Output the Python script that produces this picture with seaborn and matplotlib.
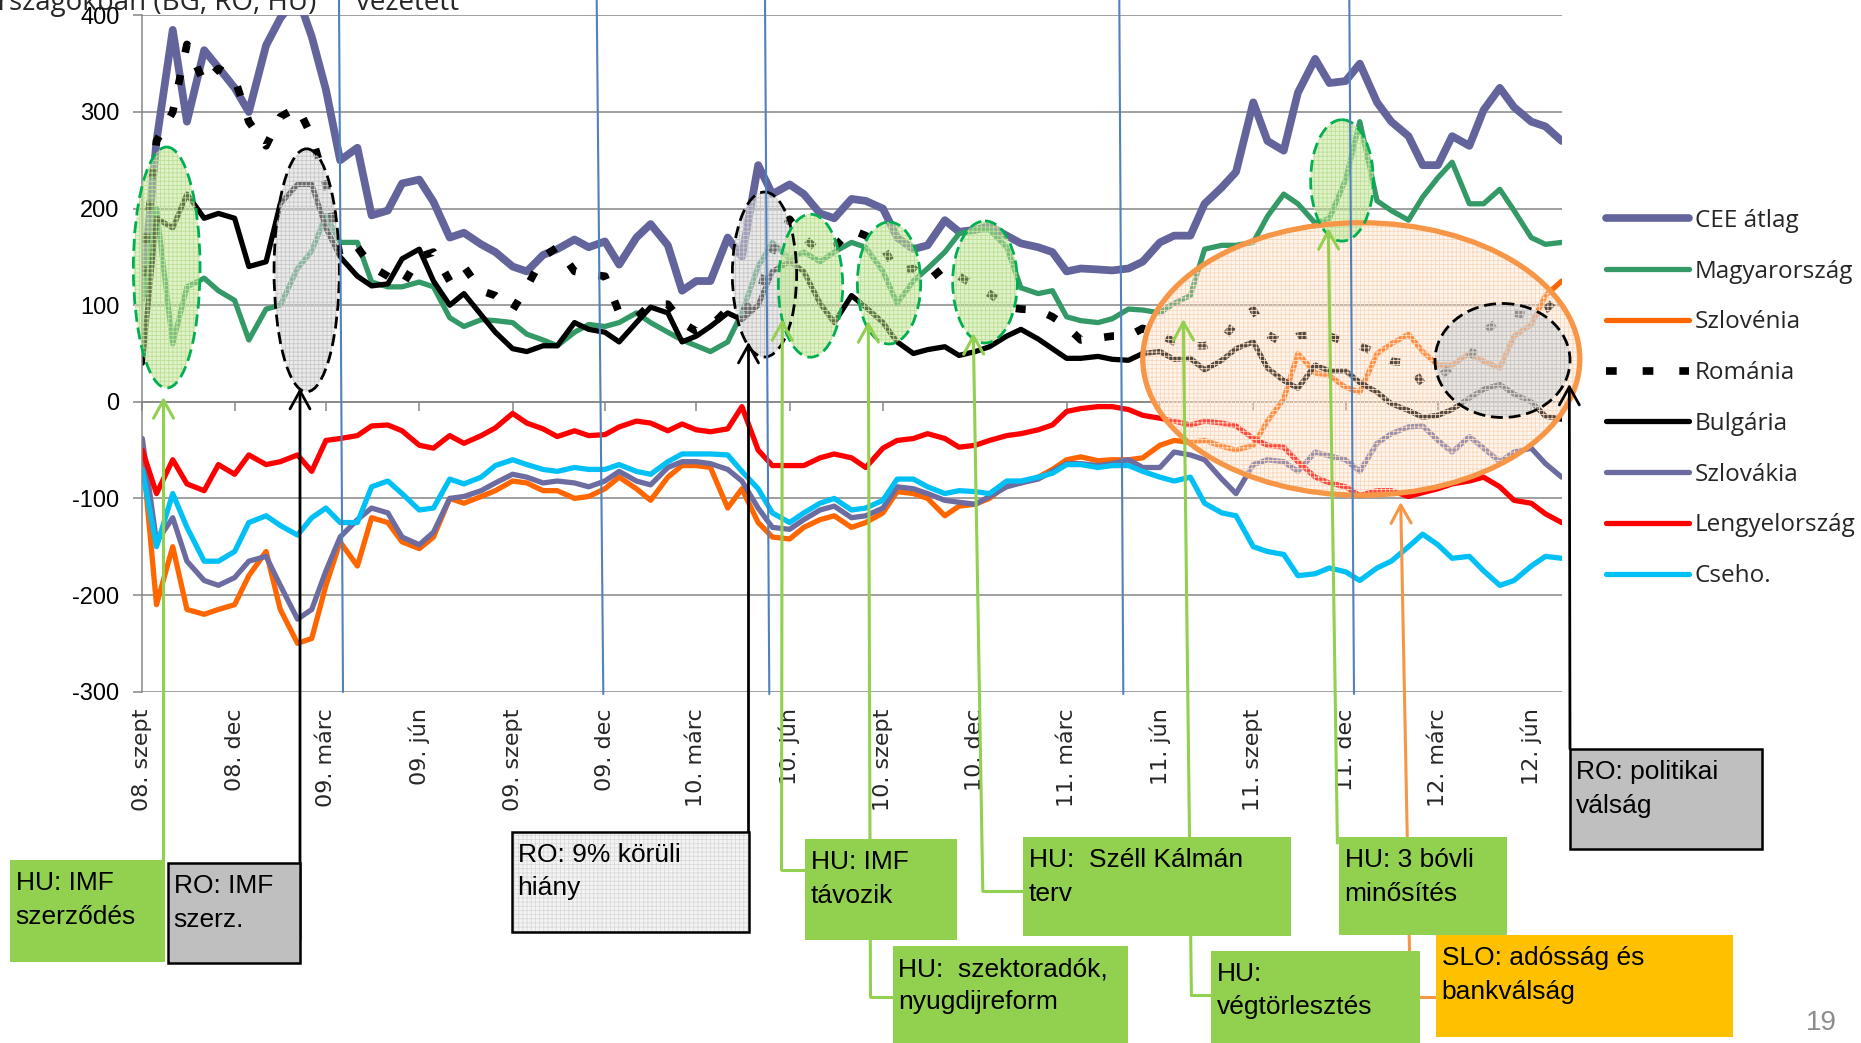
import numpy as np
import pandas as pd
import matplotlib
matplotlib.use("Agg")
import matplotlib.pyplot as plt
from matplotlib.patches import Ellipse, Rectangle, FancyArrowPatch
from matplotlib.lines import Line2D
from matplotlib.transforms import Affine2D
from matplotlib import font_manager
import seaborn as sns

# --- data (semi-monthly readings, bp) ---
dates = pd.date_range("2008-09-01", periods=93, freq="SMS")

cee = [110, 270, 385, 290, 364, 346, 325, 300, 369, 397, 420, 378, 323, 250, 263, 193, 198, 226, 230, 207, 170, 175, 163, 155,
       140, 135, 152, 158, 168, 160, 166, 142, 170, 184, 162, 115, 125, 125, 170, 150, 245, 215, 225, 215, 195, 190, 210, 208,
       200, 170, 158, 162, 188, 176, 178, 182, 172, 164, 160, 155, 135, 138, 137, 136, 138, 145, 165, 172, 172, 205, 222,
       238, 310, 270, 260, 320, 355, 330, 332, 350, 310, 290, 275, 245, 245, 275, 265, 302, 325, 305, 290, 285, 270]
hu = [105, 200, 60, 119, 128, 115, 105, 64, 96, 100, 138, 156, 193, 165, 165, 124, 119, 119, 124, 119, 87, 78, 85, 84,
      82, 70, 64, 58, 72, 80, 78, 82, 92, 82, 72, 64, 58, 52, 62, 92, 140, 165, 148, 155, 145, 155, 165, 160,
      135, 102, 125, 138, 155, 174, 178, 178, 160, 118, 112, 115, 88, 84, 82, 86, 96, 95, 92, 102, 110, 158, 162,
      162, 165, 192, 215, 205, 185, 190, 230, 290, 208, 198, 188, 212, 232, 248, 205, 205, 220, 198, 170, 163, 165]
si = [-50, -210, -150, -215, -220, -215, -210, -180, -155, -215, -250, -245, -190, -145, -170, -120, -125, -145, -152, -140, -100, -105, -98, -92,
      -82, -84, -92, -92, -100, -98, -90, -78, -90, -102, -78, -66, -66, -68, -110, -90, -125, -140, -142, -130, -122, -118, -130, -125,
      -115, -93, -95, -100, -118, -108, -106, -100, -86, -84, -78, -70, -60, -57, -61, -60, -60, -58, -45, -40, -42, -40, -46,
      -50, -45, -20, 3, 50, 30, 27, 15, 10, 50, 60, 70, 52, 38, 38, 50, 42, 35, 68, 80, 110, 125]
ro = [130, 270, 300, 370, 330, 345, 335, 290, 265, 295, 305, 275, 225, 150, 160, 140, 130, 120, 150, 155, 125, 140, 115, 110,
      95, 119, 150, 160, 135, 132, 130, 92, 87, 101, 101, 82, 73, 78, 96, 92, 110, 156, 189, 170, 155, 160, 178, 172,
      160, 135, 138, 125, 140, 130, 120, 112, 98, 96, 95, 88, 78, 64, 66, 68, 68, 76, 70, 62, 58, 58, 64,
      82, 95, 70, 60, 68, 70, 68, 62, 58, 50, 42, 40, 18, 25, 36, 45, 72, 85, 92, 88, 95, 112]
bg = [40, 190, 180, 215, 190, 195, 190, 140, 145, 205, 225, 225, 180, 150, 130, 120, 122, 148, 158, 125, 100, 112, 90, 72,
      55, 52, 58, 58, 82, 75, 72, 62, 82, 98, 92, 62, 68, 78, 92, 85, 100, 135, 145, 135, 102, 82, 110, 98,
      82, 62, 50, 54, 57, 48, 52, 57, 68, 75, 65, 55, 45, 45, 47, 44, 43, 50, 52, 44, 45, 33, 43,
      55, 62, 35, 22, 14, 38, 32, 32, 20, 10, -2, -9, -16, -14, -8, 4, 13, 18, 8, 0, -15, -18]
sk = [-38, -145, -120, -165, -185, -190, -182, -165, -160, -190, -225, -215, -175, -140, -122, -110, -115, -140, -148, -135, -100, -98, -92, -84,
      -75, -78, -84, -82, -84, -88, -82, -72, -82, -86, -68, -62, -62, -64, -70, -82, -110, -130, -132, -122, -112, -108, -120, -118,
      -110, -88, -90, -95, -102, -104, -106, -98, -88, -84, -80, -72, -64, -64, -66, -64, -60, -68, -68, -52, -55, -60, -80,
      -95, -65, -60, -62, -72, -52, -56, -60, -72, -43, -33, -26, -25, -40, -52, -36, -48, -62, -52, -48, -64, -78]
pl = [-50, -95, -60, -85, -92, -65, -75, -55, -65, -62, -55, -72, -40, -38, -35, -25, -24, -30, -45, -48, -35, -43, -35, -27,
      -12, -22, -28, -36, -30, -35, -34, -26, -20, -22, -30, -23, -29, -31, -28, -5, -50, -66, -66, -66, -58, -54, -58, -68,
      -48, -40, -38, -33, -38, -47, -45, -40, -35, -33, -29, -24, -10, -7, -5, -5, -8, -14, -17, -20, -24, -20, -22,
      -25, -38, -45, -47, -62, -78, -84, -88, -97, -92, -92, -98, -94, -90, -85, -82, -78, -88, -102, -105, -116, -125]
cz = [-70, -150, -95, -130, -165, -165, -155, -125, -118, -128, -138, -120, -110, -125, -125, -88, -82, -95, -112, -110, -80, -85, -78, -66,
      -60, -65, -70, -72, -68, -70, -70, -65, -72, -75, -62, -54, -54, -54, -55, -72, -90, -115, -125, -115, -105, -100, -112, -110,
      -102, -80, -80, -88, -95, -92, -93, -95, -82, -82, -78, -74, -65, -65, -68, -66, -66, -72, -78, -82, -78, -105, -115,
      -118, -150, -155, -158, -180, -178, -172, -176, -185, -172, -165, -150, -137, -148, -162, -160, -175, -190, -185, -170, -160, -162]

series_names = ["CEE átlag", "Magyarország", "Szlovénia", "Románia", "Bulgária", "Szlovákia", "Lengyelország", "Cseho."]
series_values = [cee, hu, si, ro, bg, sk, pl, cz]

tick_dates = pd.date_range("2008-09-01", "2012-06-01", freq="3MS")
tick_labels = ["08. szept", "08. dec", "09. márc", "09. jún", "09. szept", "09. dec", "10. márc", "10. jún",
               "10. szept", "10. dec", "11. márc", "11. jún", "11. szept", "11. dec", "12. márc", "12. jún"]

# --- styles ---
palette = {"CEE átlag": "#64649C", "Magyarország": "#339966", "Szlovénia": "#FF6600", "Románia": "#000000",
           "Bulgária": "#000000", "Szlovákia": "#6C6CA0", "Lengyelország": "#FF0000", "Cseho.": "#00C0F6"}
widths = {"CEE átlag": 5.6, "Magyarország": 3.8, "Szlovénia": 3.8, "Románia": 5.5,
          "Bulgária": 3.8, "Szlovákia": 3.8, "Lengyelország": 3.8, "Cseho.": 3.8}
ro_dash = (1.3, 3.0)
dashes = {n: "" for n in series_names}
dashes["Románia"] = ro_dash

GREEN_BOX = "#92D050"
GREEN_LINE = "#92D050"
ORANGE_LINE = "#F79646"
BLUE_LINE = "#4F81BD"
GRID = "#868686"

sns.set_theme(style="white")
installed = {f.name for f in font_manager.fontManager.ttflist}
if "Liberation Sans Narrow" in installed:
    narrow, box_fs, ytick_fs = "Liberation Sans Narrow", 22, 21
else:
    narrow, box_fs, ytick_fs = "Liberation Sans", 19, 17
plt.rcParams["font.family"] = ["Open Sans", "DejaVu Sans"]
plt.rcParams["hatch.linewidth"] = 0.6
plt.rcParams["axes.unicode_minus"] = False

W, H = 1861, 1043
fig = plt.figure(figsize=(W / 100, H / 100), dpi=100)
ax = fig.add_axes([142.3 / W, 1 - 691.6 / H, (1561.7 - 142.3) / W, (691.6 - 15.4) / H])
# reference-pixel transform for the annotation layer (x right, y down)
T = Affine2D().scale(1 / W, -1 / H).translate(0, 1) + fig.transFigure

df = pd.DataFrame({"date": np.tile(dates, len(series_names)),
                   "series": np.repeat(series_names, len(dates)),
                   "value": np.concatenate(series_values)})
sns.lineplot(data=df, x="date", y="value", hue="series", hue_order=series_names, palette=palette,
             size="series", sizes=widths, style="series", dashes=dashes,
             estimator=None, errorbar=None, legend=False, ax=ax)

ax.set_xlim(dates[0], dates[-1])
ax.set_ylim(-300, 400)
ax.set_yticks(range(-300, 401, 100))
ax.set_xlabel("")
ax.set_ylabel("")
ax.yaxis.grid(True, color=GRID, lw=1.1)
ax.xaxis.grid(False)
for s in ["top", "right"]:
    ax.spines[s].set_visible(False)
ax.spines["left"].set_color(GRID)
ax.spines["left"].set_linewidth(1.1)
ax.spines["bottom"].set_position(("data", 0))
ax.spines["bottom"].set_color(GRID)
ax.spines["bottom"].set_linewidth(1.1)
ax.set_xticks(tick_dates)
ax.tick_params(axis="x", bottom=True, direction="out", length=6.5, width=1.1, color=GRID, labelbottom=False)
ax.tick_params(axis="y", left=True, direction="out", length=6.5, width=1.1, color=GRID, pad=10,
               labelsize=ytick_fs, labelcolor="black")
for lbl in ax.get_yticklabels():
    lbl.set_family(narrow)

sec = ax.secondary_xaxis("bottom")
sec.set_xticks(ax.get_xticks())
sec.set_xticklabels(tick_labels, rotation=90, fontsize=16, family="DejaVu Sans", va="top", ha="center")
sec.tick_params(length=0, pad=12)
sec.spines["bottom"].set_visible(False)

# legend
handles = []
for n in series_names:
    ls = (0, (1.4, 3.4)) if n == "Románia" else "-"
    handles.append(Line2D([], [], color=palette[n], lw=5.5 if n in ("CEE átlag", "Románia") else 3.8, ls=ls,
                          solid_capstyle="round", dash_capstyle="butt"))
fig.legend(handles, series_names, loc="upper left", bbox_to_anchor=(1606 / W, 1 - 209 / H),
           frameon=False, fontsize=17.5, handlelength=3.4, handletextpad=0.25, labelspacing=1.1,
           borderaxespad=0, borderpad=0)

# vertical blue event lines
for (x0, x1, y1) in [(339, 343, 692), (596.7, 603.3, 694), (765, 769.3, 694), (1119.3, 1123.3, 694), (1349.3, 1354, 694)]:
    fig.add_artist(Line2D([x0, x1], [0, y1], transform=T, color=BLUE_LINE, lw=1.5, zorder=2))

# highlight ellipses
ell_styles = {
    "green": dict(face=(0.77, 0.90, 0.60, 0.5), hatch_c="#BCE096", edge="#00B050", ls=(0, (4.3, 2.1)), lw=2.0),
    "gray": dict(face=(0.84, 0.84, 0.84, 0.5), hatch_c="#C8C8C8", edge="black", ls=(0, (4.3, 2.1)), lw=2.0),
    "orange": dict(face=(0.99, 0.88, 0.80, 0.32), hatch_c="#FAD8BC", edge=ORANGE_LINE, ls="-", lw=3.8),
}
ellipses = [
    (1361.3, 359, 437, 272.5, "orange"),
    (166.7, 267.5, 66.7, 241, "green"),
    (306.7, 270.3, 65.3, 243, "gray"),
    (764.5, 274.5, 64.3, 165, "gray"),
    (810.5, 285.7, 64.3, 143, "green"),
    (889, 283, 63.3, 122, "green"),
    (985, 282, 64.7, 122, "green"),
    (1342, 180.4, 62.7, 121.4, "green"),
    (1502.5, 360.5, 135, 114, "gray"),
]
for cx, cy, w, h, kind in ellipses:
    st = ell_styles[kind]
    fig.add_artist(Ellipse((cx, cy), w, h, transform=T, facecolor=st["face"], edgecolor=st["hatch_c"],
                           hatch="++++", lw=0, zorder=1))
    fig.add_artist(Ellipse((cx, cy), w, h, transform=T, fill=False, edgecolor=st["edge"],
                           ls=st["ls"], lw=st["lw"], zorder=1.5))

# connectors with open arrow heads
connectors = [
    ([(163.5, 860), (163.5, 397)], GREEN_LINE),
    ([(300, 940), (300, 388)], "black"),
    ([(748.5, 832), (748.5, 342)], "black"),
    ([(805, 870), (781.5, 870), (782.3, 319)], GREEN_LINE),
    ([(893, 997), (870.5, 997), (868.3, 321)], GREEN_LINE),
    ([(1022.7, 891), (982.8, 891), (973.3, 333)], GREEN_LINE),
    ([(1211, 995), (1191.4, 995), (1183.3, 319)], GREEN_LINE),
    ([(1337.4, 843), (1328.3, 228)], GREEN_LINE),
    ([(1440, 997), (1410.4, 997), (1400.7, 502)], ORANGE_LINE),
    ([(1570, 749), (1569.3, 384)], "black"),
]
for pts, col in connectors:
    lw = 2.0 if col == "black" else 2.2
    if len(pts) > 2:
        xs, ys = zip(*pts[:-1])
        fig.add_artist(Line2D(xs, ys, transform=T, color=col, lw=lw, zorder=3))
    fig.add_artist(FancyArrowPatch(pts[-2], pts[-1], transform=T, color=col, lw=lw,
                                   arrowstyle="->,head_length=0.65,head_width=0.36", mutation_scale=20,
                                   shrinkA=0, shrinkB=0, zorder=3))

# event boxes
boxes = [
    (9.6, 860, 164.5, 961.7, "HU: IMF\nszerződés", "green"),
    (167.7, 863.3, 299.7, 963.3, "RO: IMF\nszerz.", "gray"),
    (511.5, 831.7, 749.4, 931.7, "RO: 9% körüli\nhiány", "light"),
    (805, 839.3, 956.6, 940, "HU: IMF\ntávozik", "green"),
    (892.5, 946, 1127.5, 1045, "HU:  szektoradók,\nnyugdijreform", "green"),
    (1022.7, 837.3, 1290.8, 936, "HU:  Széll Kálmán\nterv", "green"),
    (1211, 950.7, 1419.6, 1045, "HU:\nvégtörlesztés", "green"),
    (1338.6, 837.3, 1507.4, 935.3, "HU: 3 bóvli\nminősítés", "green"),
    (1435.6, 935.3, 1733, 1037.3, "SLO: adósság és\nbankválság", "yellow"),
    (1570, 749, 1762, 849.3, "RO: politikai\nválság", "gray"),
]
for x0, y0, x1, y1, txt, kind in boxes:
    if kind == "green":
        fig.add_artist(Rectangle((x0, y0), x1 - x0, y1 - y0, transform=T, facecolor=GREEN_BOX, lw=0, zorder=4))
    elif kind == "yellow":
        fig.add_artist(Rectangle((x0, y0), x1 - x0, y1 - y0, transform=T, facecolor="#FFC000", lw=0, zorder=4))
    elif kind == "gray":
        fig.add_artist(Rectangle((x0, y0), x1 - x0, y1 - y0, transform=T, facecolor="#BFBFBF",
                                 edgecolor="black", lw=1.8, zorder=4))
    else:
        fig.add_artist(Rectangle((x0, y0), x1 - x0, y1 - y0, transform=T, facecolor="#F4F4F4",
                                 edgecolor="#DADADA", hatch="++++", lw=0, zorder=4))
        fig.add_artist(Rectangle((x0, y0), x1 - x0, y1 - y0, transform=T, fill=False,
                                 edgecolor="black", lw=1.8, zorder=4.1))
    fig.text(x0 + 6, y0 + 11, txt, transform=T, ha="left", va="top", fontsize=box_fs,
             family=narrow, linespacing=1.5, color="black", zorder=5)

# cut-off heading at the top and page number
fig.text(316, 10, "országokban (BG, RO, HU)", transform=T, ha="right", va="baseline", fontsize=20)
fig.text(356, 10, "vezetett", transform=T, ha="left", va="baseline", fontsize=20)
fig.text(1837, 1030, "19", transform=T, ha="right", va="baseline", fontsize=20, color="#8C8C8C", family=narrow)

fig.savefig("out.png", dpi=100)
